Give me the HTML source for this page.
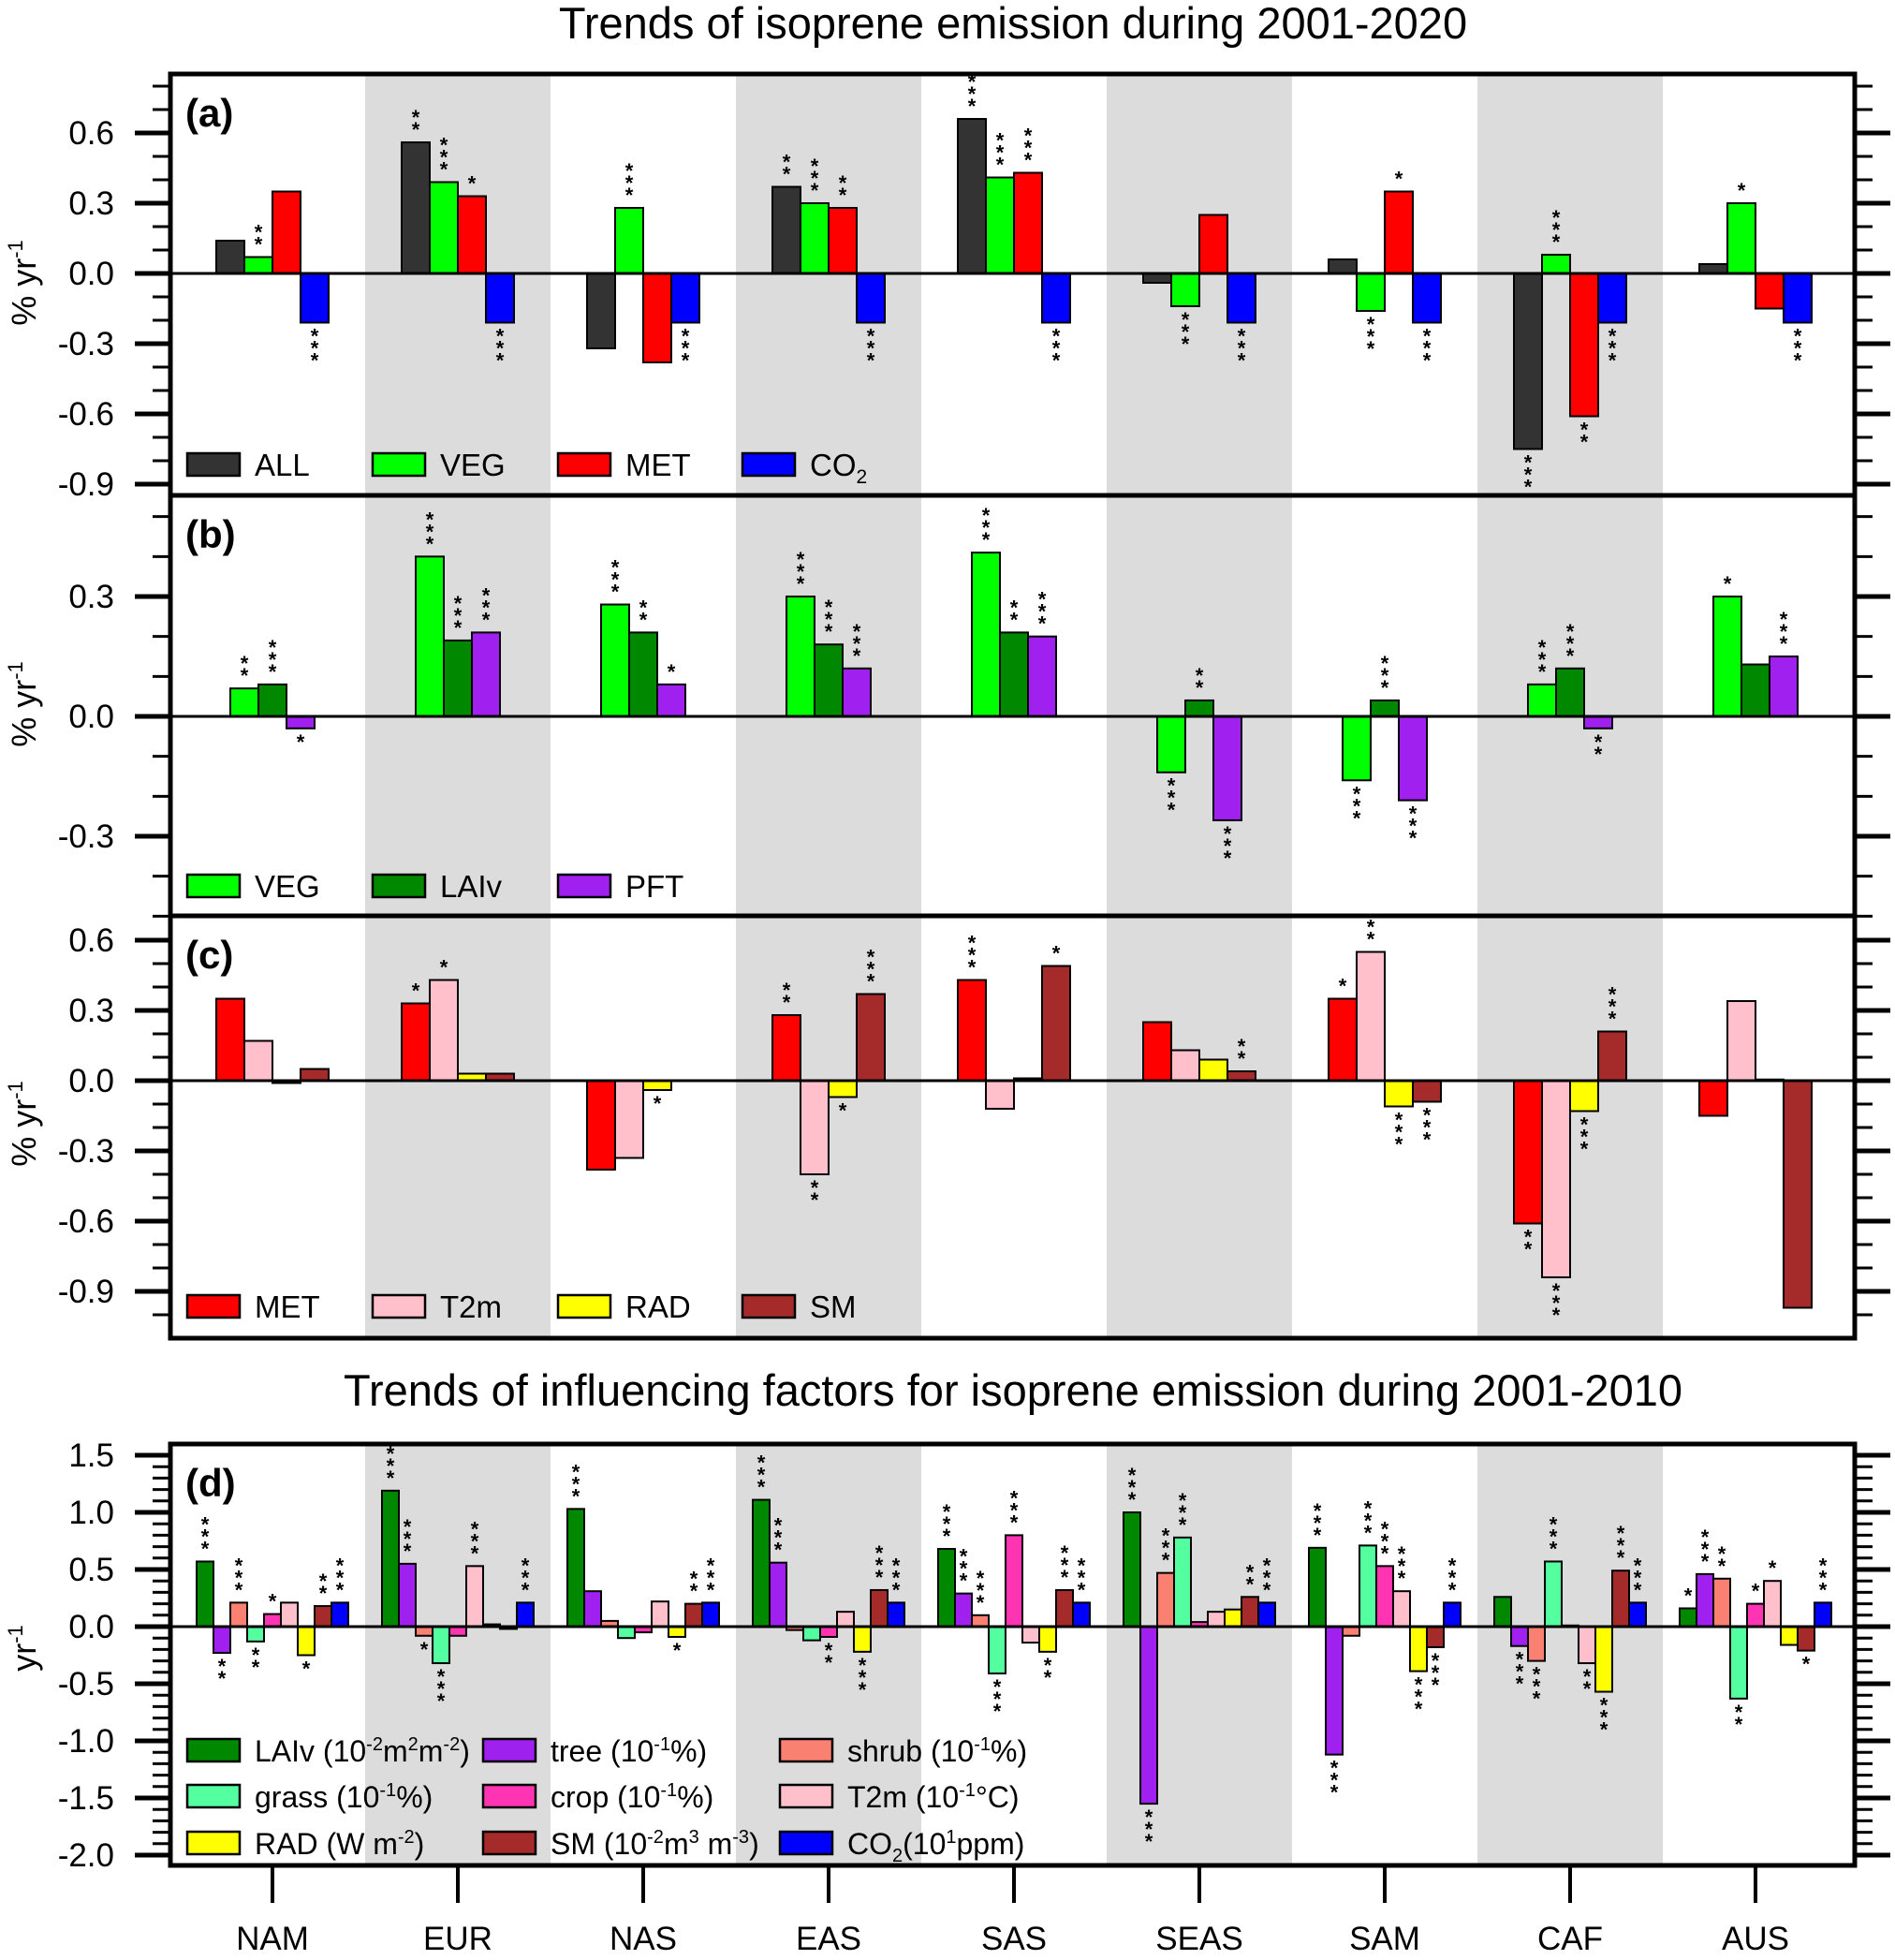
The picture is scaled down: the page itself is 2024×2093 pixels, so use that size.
<!DOCTYPE html>
<html><head><meta charset="utf-8"><style>
html,body{margin:0;padding:0;background:#fff;}
svg text{font-family:"Liberation Sans",sans-serif;}
</style></head><body>
<svg id="chart" xmlns="http://www.w3.org/2000/svg" width="2024" height="2088" viewBox="0 0 2024 2088">
<text x="1082" y="41" font-size="47" text-anchor="middle">Trends of isoprene emission during 2001-2020</text>
<text x="1082" y="1501" font-size="47" text-anchor="middle">Trends of influencing factors for isoprene emission during 2001-2010</text>
</svg>
<script>
const regions = ["NAM","EUR","NAS","EAS","SAS","SEAS","SAM","CAF","AUS"];
// Panel a: ALL, VEG, MET, CO2
const aSeries = ["ALL","VEG","MET","CO2"];
const aALL = [0.14,0.56,-0.32,0.37,0.66,-0.04,0.06,-0.75,0.04];
const aVEG = [0.07,0.39,0.28,0.30,0.41,-0.14,-0.16,0.08,0.30];
const aMET = [0.35,0.33,-0.38,0.28,0.43,0.25,0.35,-0.61,-0.15];
const aCO2 = [-0.21,-0.21,-0.21,-0.21,-0.21,-0.21,-0.21,-0.21,-0.21];
const aStarALL = [0,2,0,2,3,0,0,3,0];
const aStarVEG = [2,3,3,3,3,3,3,3,1];
const aStarMET = [0,1,0,2,3,0,1,2,0];
const aStarCO2 = [3,3,3,3,3,3,3,3,3];
const aTicks = ["0.6","0.3","0.0","-0.3","-0.6","-0.9"];
// Panel b: VEG, LAIv, PFT
const bVEG = [0.07,0.40,0.28,0.30,0.41,-0.14,-0.16,0.08,0.30];
const bLAI = [0.08,0.19,0.21,0.18,0.21,0.04,0.04,0.12,0.13];
const bPFT = [-0.03,0.21,0.08,0.12,0.20,-0.26,-0.21,-0.03,0.15];
const bStarVEG = [2,3,3,3,3,3,3,3,1];
const bStarLAI = [3,3,2,3,2,2,3,3,0];
const bStarPFT = [1,3,1,3,3,3,3,2,3];
const bTicks = ["0.3","0.0","-0.3"];
// Panel c: MET, T2m, RAD, SM
const cMET = [0.35,0.33,-0.38,0.28,0.43,0.25,0.35,-0.61,-0.15];
const cT2m = [0.17,0.43,-0.33,-0.40,-0.12,0.13,0.55,-0.84,0.34];
const cRAD = [-0.01,0.03,-0.04,-0.07,0.01,0.09,-0.11,-0.13,0.005];
const cSM  = [0.05,0.03,0.00,0.37,0.49,0.04,-0.09,0.21,-0.97];
const cStarMET = [0,1,0,2,3,0,1,2,0];
const cStarT2m = [0,1,0,2,0,0,2,3,0];
const cStarRAD = [0,0,1,1,0,0,3,3,0];
const cStarSM  = [0,0,0,3,1,2,3,3,0];
const cTicks = ["0.6","0.3","0.0","-0.3","-0.6","-0.9"];
// Panel d
const dLAI   = [0.57,1.19,1.03,1.11,0.68,1.00,0.69,0.26,0.16];
const dTree  = [-0.23,0.55,0.31,0.56,0.29,-1.55,-1.12,-0.17,0.46];
const dShrub = [0.21,-0.08,0.05,-0.03,0.10,0.47,-0.08,-0.30,0.42];
const dGrass = [-0.13,-0.32,-0.10,-0.12,-0.41,0.78,0.71,0.57,-0.63];
const dCrop  = [0.11,-0.08,-0.05,-0.09,0.80,0.04,0.53,0.01,0.20];
const dT2m   = [0.21,0.53,0.22,0.13,-0.14,0.13,0.31,-0.32,0.40];
const dRAD   = [-0.25,0.02,-0.09,-0.22,-0.22,0.15,-0.39,-0.57,-0.16];
const dSM    = [0.18,-0.02,0.20,0.32,0.32,0.26,-0.18,0.49,-0.21];
const dCO2   = [0.21,0.21,0.21,0.21,0.21,0.21,0.21,0.21,0.21];
const dStarLAI   = [3,3,3,3,3,3,3,0,1];
const dStarTree  = [2,3,0,3,3,3,3,3,3];
const dStarShrub = [3,1,0,0,3,3,0,3,2];
const dStarGrass = [2,3,0,0,3,3,3,3,2];
const dStarCrop  = [1,0,0,2,3,0,3,0,1];
const dStarT2m   = [0,3,0,0,0,0,3,2,1];
const dStarRAD   = [1,0,1,3,2,0,3,3,0];
const dStarSM    = [2,0,2,3,3,2,3,3,1];
const dStarCO2   = [3,3,3,3,3,3,3,3,3];
const dTicks = ["1.5","1.0","0.5","0.0","-0.5","-1.0","-1.5","-2.0"];

const NS="http://www.w3.org/2000/svg";
const svg=document.getElementById('chart');
const X0=182, X1=1981, C0=291, STEP=198;
function el(tag,attrs,parent){const e=document.createElementNS(NS,tag);for(const k in attrs)e.setAttribute(k,attrs[k]);(parent||svg).appendChild(e);return e;}
function xCenter(i){return C0+STEP*i;}
const COL={ALL:"#333333",VEG:"#00ff00",MET:"#ff0000",CO2:"#0000ff",LAI:"#008800",PFT:"#a020f0",T2m:"#ffc0cb",RAD:"#ffff00",SM:"#a52a2a",shrub:"#fa8072",grass:"#54ff9f",crop:"#ff34b3",tree:"#a020f0"};

function panel(cfg){
  const g=el('g',{});
  
  
  const y=v=>cfg.zeroY - v*cfg.ppu;
  for(let i=1;i<9;i+=2){
    const r=el('rect',{x:xCenter(i)-STEP/2,y:cfg.top,width:STEP,height:cfg.bottom-cfg.top,fill:"#dcdcdc"},g);
    
    
  }
  const n=cfg.series.length, w=cfg.barW;
  cfg.series.forEach((s,si)=>{
    s.vals.forEach((v,i)=>{
      const bx=xCenter(i)-n*w/2+si*w;
      const y0=y(0), yv=y(v);
      const r=el('rect',{x:bx,y:Math.min(y0,yv),width:w,height:Math.max(Math.abs(yv-y0),0.5),fill:COL[s.col],stroke:"#000","stroke-width":2},g);
      
      
      const k=s.stars[i];
      for(let j=0;j<k;j++){
        const sy = v>=0 ? yv-6-j*13 : yv+22+j*13;
        const t=el('text',{x:bx+w/2,y:sy,"font-size":22,"text-anchor":"middle","font-weight":"bold"},g);
        t.textContent='*';
        
        
      }
    });
  });
  const z=el('line',{x1:X0,x2:X1,y1:y(0),y2:y(0),stroke:"#000","stroke-width":3},g);
  
  
  const f=el('rect',{x:X0,y:cfg.top,width:X1-X0,height:cfg.bottom-cfg.top,fill:"none",stroke:"#000","stroke-width":5},g);
  
  
  for(let m=cfg.minMinor;m<=cfg.maxMinor+1e-9;m+=cfg.minorStep){
    const isMaj=Math.abs(Math.round(m/cfg.majorStep)*cfg.majorStep-m)<1e-6;
    const L=isMaj?38:19, sw=isMaj?5:3;
    el('line',{x1:X0-L,x2:X0,y1:y(m),y2:y(m),stroke:"#000","stroke-width":sw},g);
    el('line',{x1:X1,x2:X1+L,y1:y(m),y2:y(m),stroke:"#000","stroke-width":sw},g);
  }
  cfg.ticks.forEach(tl=>{
    const t=el('text',{x:122,y:y(parseFloat(tl))+12,"font-size":35,"text-anchor":"end"},g);
    t.textContent=tl;
    
    
  });
  const pl=el('text',{x:198,y:cfg.top+56,"font-size":42,"font-weight":"bold"},g);
  pl.textContent=cfg.label;
  
  
  const yt=el('text',{x:0,y:0,"font-size":36,"text-anchor":"middle",transform:`translate(38,${cfg.ytY}) rotate(-90)`},g);
  yt.innerHTML=cfg.ytitle;
  
  
  cfg.legend.forEach(lg=>{
    const lgG=el('g',{},g);
    
    
    el('rect',{x:lg.x,y:lg.y-12,width:56,height:24,fill:COL[lg.col],stroke:"#000","stroke-width":2.5},lgG);
    const t=el('text',{x:lg.x+72,y:lg.y+12,"font-size":lg.fs||33},lgG);
    t.innerHTML=lg.text;
  });
  return y;
}
const legA=[200,398,596,793];
const ytA='% yr<tspan dy="-14" font-size="22">-1</tspan>';
panel({name:'panel-a',label:'(a)',top:79,bottom:529,zeroY:292,ppu:250,barW:30,
  series:[{key:'all',col:'ALL',vals:aALL,stars:aStarALL},{key:'veg',col:'VEG',vals:aVEG,stars:aStarVEG},{key:'met',col:'MET',vals:aMET,stars:aStarMET},{key:'co2',col:'CO2',vals:aCO2,stars:aStarCO2}],
  minMinor:-0.9,maxMinor:0.8,minorStep:0.1,majorStep:0.3,ticks:aTicks,ytY:302,ytitle:ytA,
  legend:[{x:legA[0],y:496,col:'ALL',text:'ALL'},{x:legA[1],y:496,col:'VEG',text:'VEG'},{x:legA[2],y:496,col:'MET',text:'MET'},{x:legA[3],y:496,col:'CO2',text:'CO<tspan dy="8" font-size="21">2</tspan>'}]});
panel({name:'panel-b',label:'(b)',top:529,bottom:978,zeroY:765,ppu:426.7,barW:30,
  series:[{key:'veg',col:'VEG',vals:bVEG,stars:bStarVEG},{key:'laiv',col:'LAI',vals:bLAI,stars:bStarLAI},{key:'pft',col:'PFT',vals:bPFT,stars:bStarPFT}],
  minMinor:-0.5,maxMinor:0.5,minorStep:0.1,majorStep:0.3,ticks:bTicks,ytY:752,ytitle:ytA,
  legend:[{x:legA[0],y:946,col:'VEG',text:'VEG'},{x:legA[1],y:946,col:'LAI',text:'LAIv'},{x:legA[2],y:946,col:'PFT',text:'PFT'}]});
panel({name:'panel-c',label:'(c)',top:978,bottom:1429,zeroY:1154,ppu:250,barW:30,
  series:[{key:'met',col:'MET',vals:cMET,stars:cStarMET},{key:'t2m',col:'T2m',vals:cT2m,stars:cStarT2m},{key:'rad',col:'RAD',vals:cRAD,stars:cStarRAD},{key:'sm',col:'SM',vals:cSM,stars:cStarSM}],
  minMinor:-1.0,maxMinor:0.6,minorStep:0.1,majorStep:0.3,ticks:cTicks,ytY:1200,ytitle:ytA,
  legend:[{x:legA[0],y:1395,col:'MET',text:'MET'},{x:legA[1],y:1395,col:'T2m',text:'T2m'},{x:legA[2],y:1395,col:'RAD',text:'RAD'},{x:legA[3],y:1395,col:'SM',text:'SM'}]});
const sup=(s)=>`<tspan dy="-12" font-size="20">${s}</tspan><tspan dy="12">`;
const sub=(s)=>`<tspan dy="8" font-size="20">${s}</tspan><tspan dy="-8">`;
panel({name:'panel-d',label:'(d)',top:1542,bottom:1992,zeroY:1737,ppu:122,barW:18,
  series:[{key:'laiv',col:'LAI',vals:dLAI,stars:dStarLAI},{key:'tree',col:'tree',vals:dTree,stars:dStarTree},{key:'shrub',col:'shrub',vals:dShrub,stars:dStarShrub},{key:'grass',col:'grass',vals:dGrass,stars:dStarGrass},{key:'crop',col:'crop',vals:dCrop,stars:dStarCrop},{key:'t2m',col:'T2m',vals:dT2m,stars:dStarT2m},{key:'rad',col:'RAD',vals:dRAD,stars:dStarRAD},{key:'sm',col:'SM',vals:dSM,stars:dStarSM},{key:'co2',col:'CO2',vals:dCO2,stars:dStarCO2}],
  minMinor:-2.0,maxMinor:1.5,minorStep:0.1,majorStep:0.5,ticks:dTicks,ytY:1760,ytitle:'yr<tspan dy="-14" font-size="22">-1</tspan>',
  legend:[
   {x:200,y:1869,col:'LAI',fs:32,text:'LAIv (10'+sup('-2')+'m'+sup('2')+'m'+sup('-2')+')</tspan></tspan></tspan>'},
   {x:516,y:1869,col:'tree',fs:32,text:'tree (10'+sup('-1')+'%)</tspan>'},
   {x:833,y:1869,col:'shrub',fs:32,text:'shrub (10'+sup('-1')+'%)</tspan>'},
   {x:200,y:1918,col:'grass',fs:32,text:'grass (10'+sup('-1')+'%)</tspan>'},
   {x:516,y:1918,col:'crop',fs:32,text:'crop (10'+sup('-1')+'%)</tspan>'},
   {x:833,y:1918,col:'T2m',fs:32,text:'T2m (10'+sup('-1')+'°C)</tspan>'},
   {x:200,y:1968,col:'RAD',fs:32,text:'RAD (W m'+sup('-2')+')</tspan>'},
   {x:516,y:1968,col:'SM',fs:32,text:'SM (10'+sup('-2')+'m'+sup('3')+' m'+sup('-3')+')</tspan></tspan></tspan>'},
   {x:833,y:1968,col:'CO2',fs:32,text:'CO'+sub('2')+'(10'+sup('1')+'ppm)</tspan></tspan>'}
  ]});
regions.forEach((r,i)=>{
  const tk=el('line',{x1:xCenter(i),x2:xCenter(i),y1:1992,y2:2032,stroke:"#000","stroke-width":4});
  
  
  const t=el('text',{x:xCenter(i),y:2082,"font-size":35,"text-anchor":"middle"});
  t.textContent=r;
  
  
});
</script>
</body></html>
